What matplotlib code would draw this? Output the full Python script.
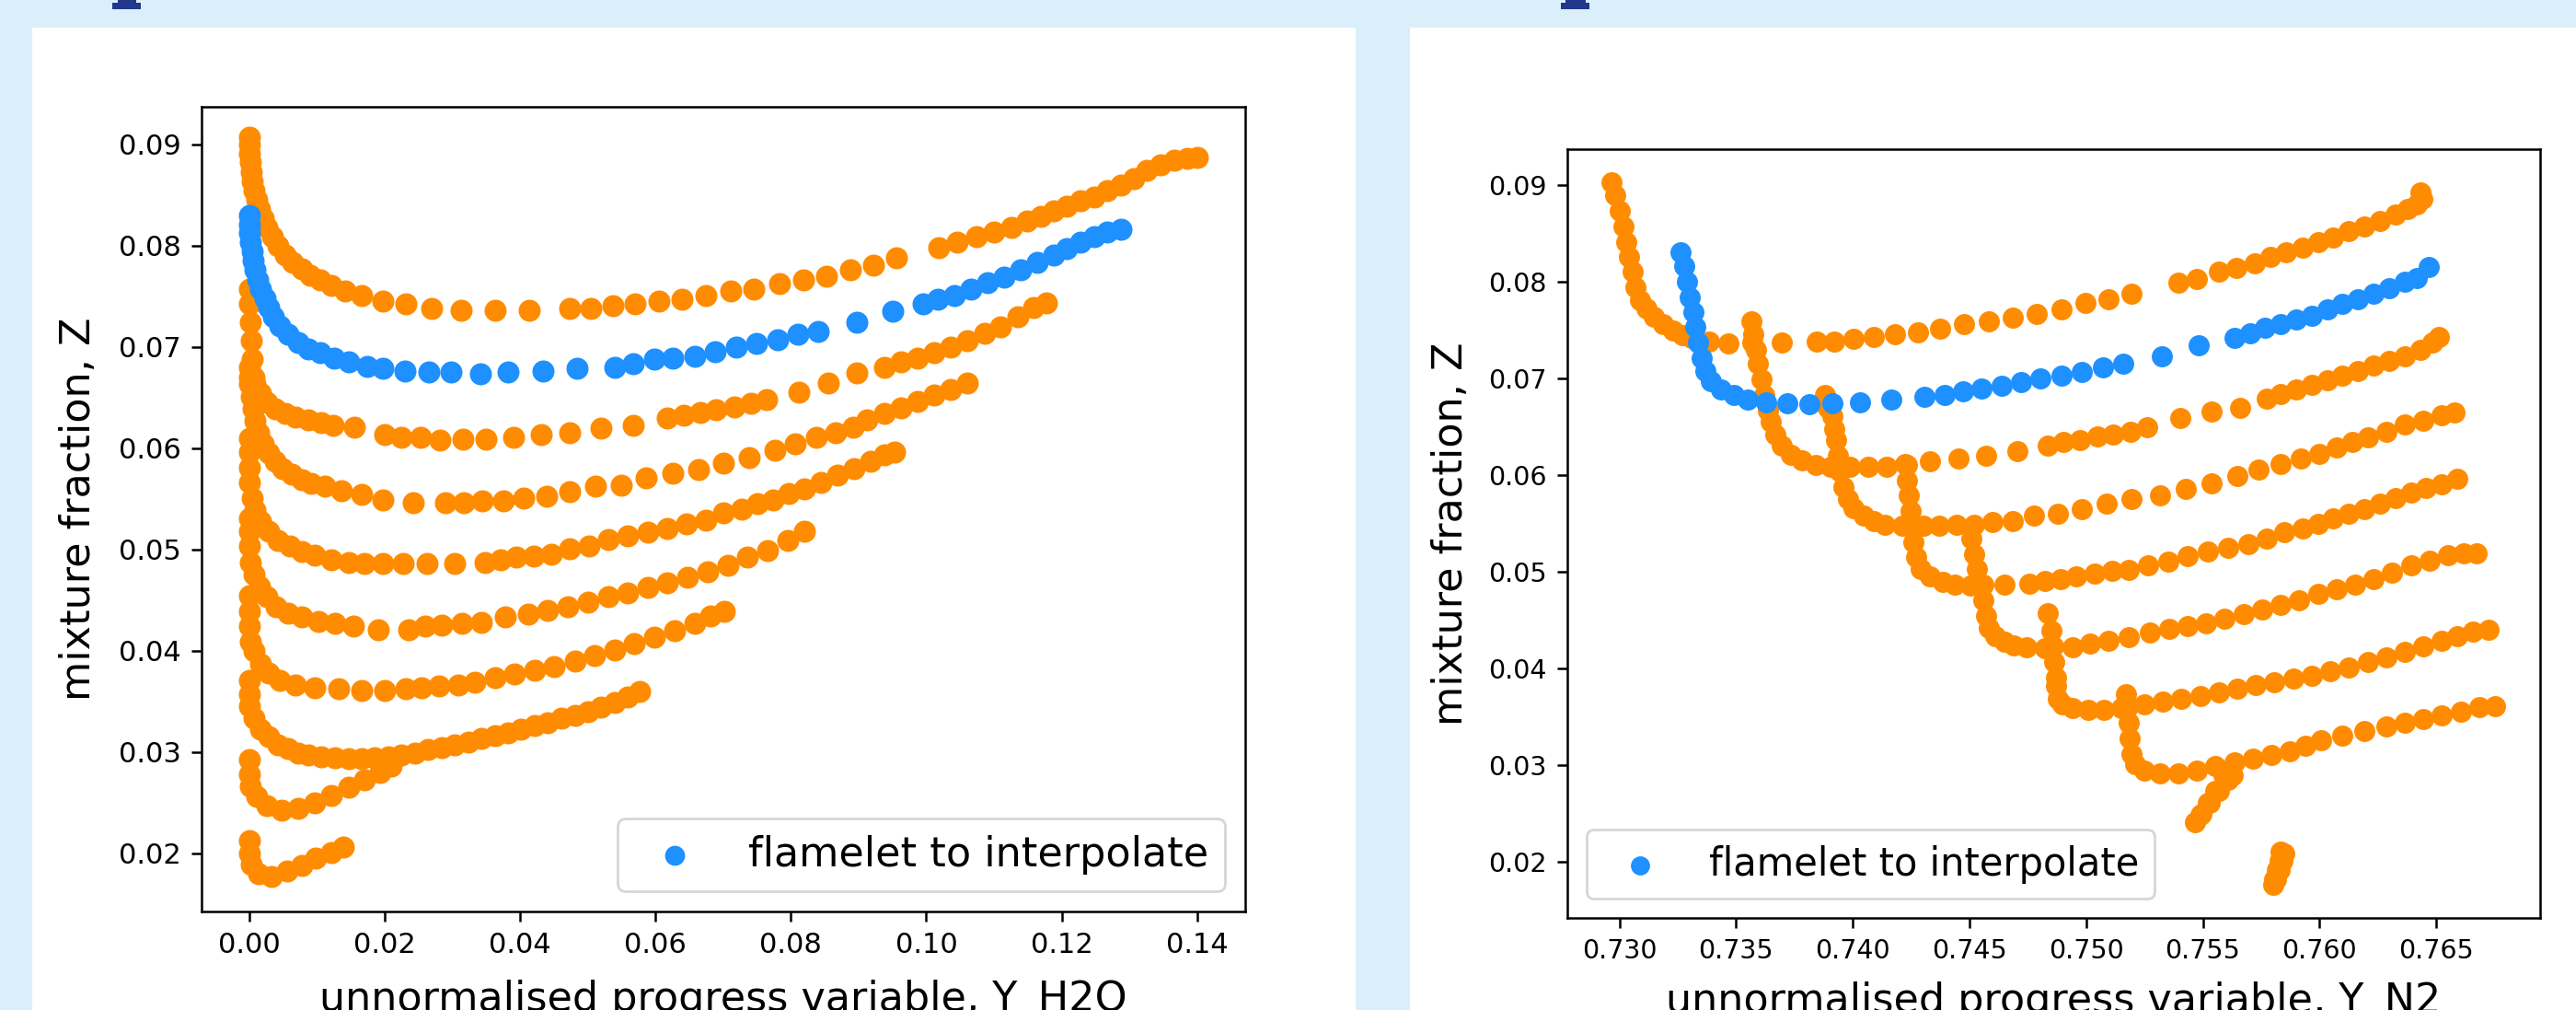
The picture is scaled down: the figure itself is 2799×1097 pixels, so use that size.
import matplotlib
matplotlib.use("Agg")
import matplotlib.pyplot as plt
from matplotlib.patches import Rectangle
from matplotlib.ticker import FormatStrFormatter

ORANGE = "darkorange"
BLUE = "dodgerblue"
BG = "#dbeffa"
MARK = "#22388c"

# ------------------------------------------------------------------
# left panel: Z against Y_H2O, one pair of lists per flamelet
# ------------------------------------------------------------------
h2o_1 = [0, 0, 0.0001, 0.0002, 0.0003, 0.0005, 0.0007, 0.0011, 0.0015, 0.0021,
         0.0026, 0.0034, 0.0043, 0.0053, 0.0065, 0.0078, 0.0090, 0.0105, 0.0122, 0.0142,
         0.0166, 0.0198, 0.0232, 0.0269, 0.0313, 0.0363, 0.0414, 0.0474, 0.0505, 0.0537,
         0.0570, 0.0605, 0.0639, 0.0674, 0.0711, 0.0745, 0.0783, 0.0819, 0.0853, 0.0888,
         0.0922, 0.0956, 0.1018, 0.1046, 0.1074, 0.1100, 0.1126, 0.1149, 0.1169, 0.1189,
         0.1208, 0.1228, 0.1248, 0.1267, 0.1287, 0.1307, 0.1326, 0.1346, 0.1366, 0.1385,
         0.1400]
zl_1 = [0.0907, 0.0900, 0.0891, 0.0882, 0.0872, 0.0863, 0.0854, 0.0845, 0.0836, 0.0827,
        0.0818, 0.0809, 0.0800, 0.0791, 0.0783, 0.0777, 0.0771, 0.0766, 0.0761, 0.0755,
        0.0751, 0.0745, 0.0742, 0.0738, 0.0736, 0.0736, 0.0736, 0.0738, 0.0738, 0.0741,
        0.0742, 0.0745, 0.0747, 0.0751, 0.0755, 0.0757, 0.0762, 0.0766, 0.0770, 0.0776,
        0.0781, 0.0788, 0.0798, 0.0803, 0.0809, 0.0813, 0.0818, 0.0824, 0.0829, 0.0834,
        0.0839, 0.0844, 0.0848, 0.0854, 0.0860, 0.0866, 0.0874, 0.0880, 0.0884, 0.0886,
        0.0887]

h2o_3 = [0, 0.0001, 0.0002, 0.0003, 0.0005, 0.0008, 0.0009, 0.0017, 0.0027, 0.0038,
         0.0053, 0.0068, 0.0088, 0.0107, 0.0124, 0.0156, 0.0201, 0.0225, 0.0253, 0.0282,
         0.0316, 0.0350, 0.0390, 0.0431, 0.0474, 0.0520, 0.0567, 0.0618, 0.0642, 0.0666,
         0.0690, 0.0717, 0.0741, 0.0764, 0.0812, 0.0855, 0.0898, 0.0938, 0.0963, 0.0987,
         0.1012, 0.1036, 0.1061, 0.1086, 0.1110, 0.1135, 0.1159, 0.1177]
zl_3 = [0.0757, 0.0742, 0.0724, 0.0706, 0.0688, 0.0670, 0.0663, 0.0654, 0.0645, 0.0639,
        0.0634, 0.0631, 0.0628, 0.0625, 0.0622, 0.0621, 0.0613, 0.0611, 0.0611, 0.0608,
        0.0609, 0.0609, 0.0611, 0.0613, 0.0615, 0.0620, 0.0622, 0.0630, 0.0632, 0.0635,
        0.0638, 0.0641, 0.0644, 0.0648, 0.0655, 0.0664, 0.0674, 0.0680, 0.0685, 0.0689,
        0.0694, 0.0700, 0.0706, 0.0713, 0.0720, 0.0730, 0.0739, 0.0743]

h2o_4 = [0, 0, 0.0001, 0.0003, 0.0006, 0.0009, 0.0014, 0.0021, 0.0029, 0.0038,
         0.0050, 0.0063, 0.0078, 0.0092, 0.0112, 0.0137, 0.0166, 0.0198, 0.0243, 0.0290,
         0.0317, 0.0344, 0.0375, 0.0406, 0.0440, 0.0474, 0.0512, 0.0549, 0.0586, 0.0626,
         0.0664, 0.0701, 0.0738, 0.0776, 0.0806, 0.0838, 0.0866, 0.0892, 0.0913, 0.0938,
         0.0963, 0.0987, 0.1012, 0.1036, 0.1061]
zl_4 = [0.0680, 0.0670, 0.0663, 0.0651, 0.0639, 0.0627, 0.0615, 0.0604, 0.0595, 0.0587,
        0.0580, 0.0574, 0.0569, 0.0565, 0.0562, 0.0558, 0.0554, 0.0549, 0.0546, 0.0546,
        0.0546, 0.0548, 0.0548, 0.0551, 0.0552, 0.0557, 0.0562, 0.0563, 0.0571, 0.0575,
        0.0579, 0.0585, 0.0591, 0.0598, 0.0604, 0.0611, 0.0615, 0.0621, 0.0628, 0.0634,
        0.0640, 0.0646, 0.0652, 0.0658, 0.0664]

h2o_5 = [0, 0, 0, 0.0001, 0.0004, 0.0009, 0.0017, 0.0029, 0.0043, 0.0060,
         0.0078, 0.0097, 0.0122, 0.0147, 0.0171, 0.0198, 0.0228, 0.0263, 0.0303, 0.0348,
         0.0371, 0.0394, 0.0420, 0.0446, 0.0474, 0.0502, 0.0530, 0.0559, 0.0589, 0.0617,
         0.0646, 0.0674, 0.0701, 0.0727, 0.0751, 0.0774, 0.0797, 0.0820, 0.0845, 0.0869,
         0.0894, 0.0918, 0.0938, 0.0953]
zl_5 = [0.0610, 0.0596, 0.0581, 0.0566, 0.0551, 0.0539, 0.0528, 0.0518, 0.0509, 0.0503,
        0.0498, 0.0494, 0.0490, 0.0487, 0.0486, 0.0486, 0.0486, 0.0486, 0.0486, 0.0487,
        0.0490, 0.0492, 0.0493, 0.0495, 0.0501, 0.0503, 0.0510, 0.0513, 0.0517, 0.0521,
        0.0525, 0.0529, 0.0536, 0.0540, 0.0545, 0.0549, 0.0555, 0.0560, 0.0566, 0.0573,
        0.0580, 0.0587, 0.0593, 0.0596]

h2o_6 = [0, 0, 0, 0.0002, 0.0007, 0.0015, 0.0027, 0.0040, 0.0058, 0.0078,
         0.0102, 0.0127, 0.0154, 0.0191, 0.0235, 0.0260, 0.0284, 0.0314, 0.0343, 0.0378,
         0.0412, 0.0441, 0.0471, 0.0500, 0.0530, 0.0559, 0.0589, 0.0618, 0.0648, 0.0677,
         0.0707, 0.0736, 0.0766, 0.0795, 0.0820]
zl_6 = [0.0531, 0.0518, 0.0503, 0.0487, 0.0475, 0.0463, 0.0453, 0.0443, 0.0437, 0.0433,
        0.0429, 0.0427, 0.0424, 0.0421, 0.0421, 0.0424, 0.0425, 0.0427, 0.0428, 0.0433,
        0.0436, 0.0440, 0.0443, 0.0448, 0.0453, 0.0457, 0.0462, 0.0467, 0.0472, 0.0478,
        0.0484, 0.0492, 0.0499, 0.0509, 0.0518]

h2o_7 = [0, 0, 0, 0.0002, 0.0007, 0.0017, 0.0029, 0.0046, 0.0068, 0.0097,
         0.0132, 0.0166, 0.0201, 0.0231, 0.0255, 0.0280, 0.0309, 0.0333, 0.0363, 0.0392,
         0.0422, 0.0451, 0.0481, 0.0510, 0.0540, 0.0569, 0.0599, 0.0628, 0.0658, 0.0682,
         0.0702]
zl_7 = [0.0454, 0.0439, 0.0424, 0.0409, 0.0400, 0.0387, 0.0378, 0.0371, 0.0366, 0.0363,
        0.0362, 0.0361, 0.0361, 0.0362, 0.0363, 0.0365, 0.0366, 0.0369, 0.0373, 0.0377,
        0.0381, 0.0384, 0.0390, 0.0395, 0.0401, 0.0407, 0.0413, 0.0420, 0.0427, 0.0434,
        0.0439]

h2o_8 = [0, 0, 0.0001, 0.0007, 0.0017, 0.0029, 0.0043, 0.0058, 0.0073, 0.0088,
         0.0107, 0.0127, 0.0147, 0.0166, 0.0186, 0.0206, 0.0225, 0.0245, 0.0264, 0.0284,
         0.0304, 0.0324, 0.0343, 0.0363, 0.0383, 0.0402, 0.0422, 0.0441, 0.0461, 0.0481,
         0.0500, 0.0520, 0.0540, 0.0559, 0.0577]
zl_8 = [0.0371, 0.0357, 0.0345, 0.0333, 0.0322, 0.0315, 0.0307, 0.0303, 0.0299, 0.0297,
        0.0295, 0.0294, 0.0293, 0.0293, 0.0294, 0.0295, 0.0297, 0.0299, 0.0302, 0.0304,
        0.0307, 0.0310, 0.0313, 0.0316, 0.0319, 0.0322, 0.0326, 0.0329, 0.0333, 0.0336,
        0.0340, 0.0344, 0.0349, 0.0354, 0.0360]

h2o_9 = [0, 0, 0.0002, 0.0011, 0.0027, 0.0048, 0.0073, 0.0097, 0.0122, 0.0147,
         0.0171, 0.0194, 0.0210]
zl_9 = [0.0292, 0.0278, 0.0266, 0.0256, 0.0247, 0.0242, 0.0244, 0.0250, 0.0257, 0.0265,
        0.0272, 0.0280, 0.0286]

h2o_10 = [0, 0, 0.0003, 0.0014, 0.0033, 0.0056, 0.0078, 0.0099, 0.0122, 0.0139]
zl_10 = [0.0212, 0.0200, 0.0189, 0.0180, 0.0177, 0.0182, 0.0188, 0.0195, 0.0201, 0.0206]

# flamelet to interpolate
h2o_blue = [0, 0, 0.0001, 0.0002, 0.0004, 0.0006, 0.0009, 0.0013, 0.0017, 0.0023,
            0.0029, 0.0036, 0.0046, 0.0058, 0.0073, 0.0087, 0.0105, 0.0125, 0.0148, 0.0174,
            0.0198, 0.0230, 0.0265, 0.0298, 0.0341, 0.0383, 0.0434, 0.0484, 0.0540, 0.0567,
            0.0599, 0.0626, 0.0658, 0.0688, 0.0720, 0.0750, 0.0780, 0.0810, 0.0841, 0.0898,
            0.0951, 0.0995, 0.1017, 0.1041, 0.1066, 0.1090, 0.1115, 0.1140, 0.1164, 0.1189,
            0.1208, 0.1228, 0.1248, 0.1267, 0.1287]
zl_blue = [0.0830, 0.0821, 0.0812, 0.0803, 0.0794, 0.0785, 0.0776, 0.0766, 0.0757, 0.0748,
           0.0739, 0.0730, 0.0721, 0.0712, 0.0704, 0.0698, 0.0694, 0.0689, 0.0685, 0.0681,
           0.0679, 0.0676, 0.0675, 0.0675, 0.0673, 0.0675, 0.0676, 0.0679, 0.0680, 0.0683,
           0.0688, 0.0689, 0.0691, 0.0695, 0.0700, 0.0703, 0.0707, 0.0712, 0.0715, 0.0724,
           0.0735, 0.0742, 0.0747, 0.0751, 0.0757, 0.0763, 0.0769, 0.0776, 0.0783, 0.0791,
           0.0797, 0.0803, 0.0809, 0.0813, 0.0816]

# ------------------------------------------------------------------
# right panel: Z against Y_N2
# ------------------------------------------------------------------
n2_1 = [0.72968, 0.72984, 0.73003, 0.73016, 0.73029, 0.73043, 0.73056, 0.73069, 0.73088, 0.73117,
        0.73149, 0.73189, 0.73229, 0.73268, 0.73308, 0.73383, 0.73468, 0.73569, 0.73694, 0.73845,
        0.73920, 0.74005, 0.74090, 0.74180, 0.74281, 0.74374, 0.74478, 0.74584, 0.74685, 0.74789,
        0.74895, 0.74996, 0.75097, 0.75196, 0.75395, 0.75475, 0.75568, 0.75642, 0.75722, 0.75788,
        0.75855, 0.75926, 0.75993, 0.76059, 0.76126, 0.76192, 0.76259, 0.76325, 0.76378, 0.76418,
        0.76439, 0.76431]
zr_1 = [0.0903, 0.0889, 0.0873, 0.0857, 0.0841, 0.0826, 0.0810, 0.0794, 0.0781, 0.0772,
        0.0764, 0.0756, 0.0750, 0.0745, 0.0742, 0.0738, 0.0736, 0.0737, 0.0737, 0.0738,
        0.0738, 0.0741, 0.0743, 0.0746, 0.0748, 0.0751, 0.0756, 0.0759, 0.0763, 0.0767,
        0.0771, 0.0778, 0.0782, 0.0788, 0.0799, 0.0803, 0.0810, 0.0814, 0.0819, 0.0826,
        0.0830, 0.0835, 0.0841, 0.0846, 0.0852, 0.0857, 0.0863, 0.0869, 0.0875, 0.0880,
        0.0886, 0.0892]

n2_3 = [0.73566, 0.73574, 0.73585, 0.73595, 0.73609, 0.73622, 0.73635,
        0.73649, 0.73667, 0.73694, 0.73734, 0.73781, 0.73840, 0.73906, 0.73986, 0.74066, 0.74146,
        0.74233, 0.74332, 0.74451, 0.74571, 0.74704, 0.74837, 0.74903, 0.74972, 0.75049, 0.75116,
        0.75190, 0.75262, 0.75403, 0.75536, 0.75661, 0.75775, 0.75833, 0.75900, 0.75966, 0.76033,
        0.76099, 0.76166, 0.76232, 0.76299, 0.76365, 0.76431, 0.76485, 0.76511]
zr_3 = [0.0759, 0.0746, 0.0730, 0.0715, 0.0699, 0.0683, 0.0667,
        0.0655, 0.0642, 0.0631, 0.0621, 0.0615, 0.0611, 0.0609, 0.0609, 0.0609, 0.0609,
        0.0611, 0.0614, 0.0617, 0.0620, 0.0625, 0.0631, 0.0634, 0.0636, 0.0640, 0.0642,
        0.0645, 0.0650, 0.0659, 0.0666, 0.0670, 0.0679, 0.0684, 0.0689, 0.0693, 0.0698,
        0.0703, 0.0708, 0.0713, 0.0718, 0.0723, 0.0730, 0.0737, 0.0743]

n2_4 = [0.73880, 0.73893, 0.73914, 0.73920, 0.73928, 0.73938, 0.73946, 0.73960, 0.73978, 0.74005,
        0.74047, 0.74092, 0.74138, 0.74212, 0.74305, 0.74372, 0.74446, 0.74518, 0.74597, 0.74685,
        0.74776, 0.74877, 0.74983, 0.75089, 0.75196, 0.75315, 0.75427, 0.75536, 0.75647, 0.75740,
        0.75833, 0.75921, 0.75998, 0.76073, 0.76139, 0.76206, 0.76285, 0.76365, 0.76445, 0.76525,
        0.76578]
zr_4 = [0.0683, 0.0670, 0.0661, 0.0648, 0.0636, 0.0620, 0.0604, 0.0588, 0.0575, 0.0566,
        0.0558, 0.0553, 0.0549, 0.0548, 0.0548, 0.0548, 0.0549, 0.0549, 0.0552, 0.0553,
        0.0558, 0.0560, 0.0565, 0.0571, 0.0575, 0.0579, 0.0586, 0.0592, 0.0599, 0.0606,
        0.0612, 0.0617, 0.0622, 0.0629, 0.0634, 0.0639, 0.0645, 0.0652, 0.0656, 0.0662,
        0.0665]

n2_5 = [0.74225, 0.74231, 0.74239, 0.74247, 0.74252, 0.74260, 0.74271, 0.74292, 0.74332, 0.74385,
        0.74438, 0.74504, 0.74558, 0.74651, 0.74757, 0.74823, 0.74890, 0.74956, 0.75036, 0.75111,
        0.75182, 0.75267, 0.75350, 0.75435, 0.75520, 0.75610, 0.75695, 0.75772, 0.75847, 0.75927,
        0.75993, 0.76059, 0.76126, 0.76192, 0.76259, 0.76325, 0.76392, 0.76458, 0.76525, 0.76591]
zr_5 = [0.0612, 0.0594, 0.0579, 0.0563, 0.0547, 0.0531, 0.0515, 0.0503, 0.0495, 0.0490,
        0.0487, 0.0486, 0.0487, 0.0487, 0.0488, 0.0491, 0.0493, 0.0495, 0.0498, 0.0501,
        0.0502, 0.0507, 0.0511, 0.0516, 0.0521, 0.0525, 0.0529, 0.0534, 0.0541, 0.0545,
        0.0550, 0.0555, 0.0560, 0.0565, 0.0571, 0.0576, 0.0582, 0.0587, 0.0591, 0.0596]

n2_6 = [0.74510, 0.74518, 0.74531, 0.74544, 0.74558, 0.74571, 0.74584, 0.74611, 0.74651, 0.74690,
        0.74744, 0.74823, 0.74943, 0.75017, 0.75095, 0.75182, 0.75275, 0.75355, 0.75435, 0.75514,
        0.75594, 0.75674, 0.75754, 0.75833, 0.75913, 0.75993, 0.76073, 0.76152, 0.76232, 0.76312,
        0.76392, 0.76471, 0.76551, 0.76618, 0.76671]
zr_6 = [0.0534, 0.0518, 0.0503, 0.0487, 0.0471, 0.0455, 0.0442, 0.0434, 0.0428, 0.0424,
        0.0422, 0.0421, 0.0422, 0.0426, 0.0429, 0.0433, 0.0437, 0.0441, 0.0444, 0.0447,
        0.0452, 0.0456, 0.0461, 0.0466, 0.0471, 0.0477, 0.0482, 0.0487, 0.0493, 0.0499,
        0.0507, 0.0512, 0.0517, 0.0519, 0.0519]

n2_7 = [0.74837, 0.74850, 0.74858, 0.74863, 0.74869, 0.74871, 0.74877, 0.74898, 0.74943, 0.75010,
        0.75076, 0.75150, 0.75249, 0.75328, 0.75408, 0.75488, 0.75568, 0.75647, 0.75727, 0.75807,
        0.75887, 0.75966, 0.76046, 0.76126, 0.76206, 0.76285, 0.76365, 0.76445, 0.76525, 0.76591,
        0.76658, 0.76724]
zr_7 = [0.0457, 0.0439, 0.0423, 0.0407, 0.0391, 0.0382, 0.0369, 0.0363, 0.0359, 0.0357,
        0.0357, 0.0359, 0.0363, 0.0366, 0.0369, 0.0372, 0.0376, 0.0379, 0.0383, 0.0386,
        0.0390, 0.0393, 0.0397, 0.0401, 0.0407, 0.0412, 0.0417, 0.0423, 0.0429, 0.0434,
        0.0438, 0.0440]

n2_8 = [0.75169, 0.75177, 0.75182, 0.75188, 0.75193, 0.75209, 0.75249, 0.75315, 0.75395, 0.75475,
        0.75554, 0.75634, 0.75714, 0.75794, 0.75873, 0.75940, 0.76006, 0.76099, 0.76192, 0.76285,
        0.76365, 0.76445, 0.76525, 0.76604, 0.76684, 0.76751]
zr_8 = [0.0374, 0.0360, 0.0344, 0.0328, 0.0312, 0.0301, 0.0295, 0.0292, 0.0292, 0.0295,
        0.0299, 0.0303, 0.0307, 0.0311, 0.0315, 0.0320, 0.0326, 0.0331, 0.0336, 0.0340,
        0.0344, 0.0348, 0.0352, 0.0356, 0.0360, 0.0361]

n2_9 = [0.75589, 0.75554, 0.75520, 0.75493, 0.75466, 0.75488, 0.75528, 0.75568, 0.75608, 0.75626]
zr_9 = [0.0290, 0.0274, 0.0261, 0.0250, 0.0241, 0.0249, 0.0261, 0.0274, 0.0285, 0.0290]

n2_10 = [0.75833, 0.75828, 0.75817, 0.75807, 0.75802, 0.75812, 0.75828, 0.75841, 0.75849]
zr_10 = [0.0211, 0.0201, 0.0192, 0.0182, 0.0177, 0.0182, 0.0192, 0.0201, 0.0209]

n2_blue = [0.73263, 0.73276, 0.73290, 0.73303, 0.73316, 0.73327, 0.73338, 0.73351, 0.73367, 0.73393,
           0.73436, 0.73489, 0.73548, 0.73627, 0.73720, 0.73813, 0.73914, 0.74031, 0.74164, 0.74308,
           0.74393, 0.74473, 0.74552, 0.74637, 0.74722, 0.74805, 0.74895, 0.74980, 0.75073, 0.75158,
           0.75323, 0.75483, 0.75634, 0.75701, 0.75767, 0.75833, 0.75900, 0.75966, 0.76033, 0.76099,
           0.76166, 0.76232, 0.76299, 0.76365, 0.76418, 0.76466]
zr_blue = [0.0830, 0.0816, 0.0800, 0.0784, 0.0769, 0.0753, 0.0737, 0.0721, 0.0708, 0.0697,
           0.0689, 0.0683, 0.0678, 0.0675, 0.0674, 0.0673, 0.0674, 0.0675, 0.0678, 0.0681,
           0.0683, 0.0687, 0.0690, 0.0692, 0.0696, 0.0700, 0.0703, 0.0707, 0.0711, 0.0715,
           0.0723, 0.0734, 0.0742, 0.0747, 0.0752, 0.0756, 0.0761, 0.0765, 0.0771, 0.0777,
           0.0782, 0.0788, 0.0793, 0.0800, 0.0804, 0.0815]

left_orange = [(h2o_1, zl_1), (h2o_3, zl_3), (h2o_4, zl_4), (h2o_5, zl_5), (h2o_6, zl_6),
               (h2o_7, zl_7), (h2o_8, zl_8), (h2o_9, zl_9), (h2o_10, zl_10)]
right_orange = [(n2_1, zr_1), (n2_3, zr_3), (n2_4, zr_4), (n2_5, zr_5), (n2_6, zr_6),
                (n2_7, zr_7), (n2_8, zr_8), (n2_9, zr_9), (n2_10, zr_10)]

# ------------------------------------------------------------------
fig = plt.figure(figsize=(27.99, 10.97), dpi=100, facecolor=BG)

# white slide panels behind the two pictures
fig.add_artist(Rectangle((35 / 2799, 0), (1473 - 35) / 2799, 1 - 30 / 1097,
                         transform=fig.transFigure, facecolor="white", edgecolor="none", zorder=0))
fig.add_artist(Rectangle((1532 / 2799, 0), 1 - 1532 / 2799, 1 - 30 / 1097,
                         transform=fig.transFigure, facecolor="white", edgecolor="none", zorder=0))
# bits of cut-off heading glyphs at the very top
for x0, x1, x2, x3 in [(128, 148, 122, 153), (1701, 1723, 1696, 1727)]:
    fig.add_artist(Rectangle((x0 / 2799, 1 - 3 / 1097), (x1 - x0) / 2799, 3 / 1097,
                             transform=fig.transFigure, facecolor=MARK, edgecolor="none"))
    fig.add_artist(Rectangle((x2 / 2799, 1 - 10 / 1097), (x3 - x2) / 2799, 7 / 1097,
                             transform=fig.transFigure, facecolor=MARK, edgecolor="none"))

ax1 = fig.add_axes([219 / 2799, 1 - 990 / 1097, 1134 / 2799, 874 / 1097])
ax2 = fig.add_axes([1703 / 2799, 1 - 997 / 1097, 1057 / 2799, 835 / 1097])

panels = [
    (ax1, left_orange, h2o_blue, zl_blue, 265, 22, 32, 32, "lower right",
     "unnormalised progress variable, Y_H2O", (-0.00701, 0.1471),
     [0.00, 0.02, 0.04, 0.06, 0.08, 0.10, 0.12, 0.14], "%.2f", -0.0988, -0.0847),
    (ax2, right_orange, n2_blue, zr_blue, 240, 20.5, 30, 32, "lower left",
     "unnormalised progress variable, Y_N2", (0.72777, 0.76945),
     [0.730, 0.735, 0.740, 0.745, 0.750, 0.755, 0.760, 0.765], "%.3f", -0.0993, -0.0826),
]
for (ax, orange, xb, zb, size, tfs, lfs, labfs, loc, xlabel, xlim,
     xticks, xfmt, ylab_x, xlab_y) in panels:
    for xs, zs in orange:
        ax.scatter(xs, zs, s=size, color=ORANGE)
    ax.scatter(xb, zb, s=size, color=BLUE, label="flamelet to interpolate")
    ax.set_xlim(*xlim)
    ax.set_ylim(0.01424, 0.0937)
    ax.set_xticks(xticks)
    ax.set_yticks([0.02, 0.03, 0.04, 0.05, 0.06, 0.07, 0.08, 0.09])
    ax.xaxis.set_major_formatter(FormatStrFormatter(xfmt))
    ax.yaxis.set_major_formatter(FormatStrFormatter("%.2f"))
    ax.tick_params(labelsize=tfs, length=8, width=1.8, pad=8)
    for sp in ax.spines.values():
        sp.set_linewidth(1.8)
    ax.set_xlabel(xlabel, fontsize=labfs)
    ax.set_ylabel("mixture fraction, Z", fontsize=labfs)
    ax.xaxis.set_label_coords(0.5, xlab_y)
    ax.yaxis.set_label_coords(ylab_x, 0.5)
    leg = ax.legend(loc=loc, fontsize=lfs, markerscale=0.9)
    leg.get_frame().set_linewidth(2)

fig.savefig("out.png", dpi=100, facecolor=BG)
